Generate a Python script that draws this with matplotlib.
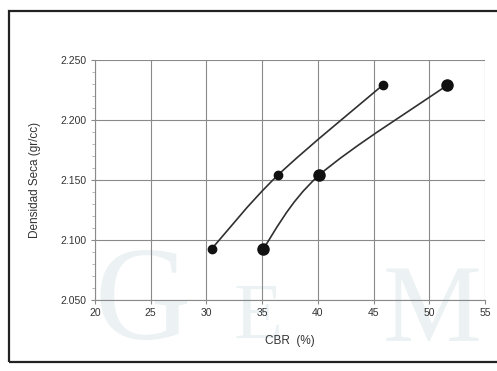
import matplotlib
matplotlib.use("Agg")
import matplotlib.pyplot as plt
from matplotlib.path import Path
from matplotlib.patches import PathPatch, Rectangle

plt.rcParams['font.family'] = ['Liberation Sans', 'DejaVu Sans']

# data
cbr_a = [30.5, 36.4, 45.8]
dens_a = [2.093, 2.154, 2.229]
cbr_b = [35.1, 40.1, 51.6]
dens_b = [2.093, 2.154, 2.229]

x_ticks = [20, 25, 30, 35, 40, 45, 50, 55]
y_ticks = [2.050, 2.100, 2.150, 2.200, 2.250]


def smooth_path(xs, ys):
    # excel-like smoothed line: catmull-rom turned into cubic bezier segments
    pts = list(zip(xs, ys))
    verts = [pts[0]]
    codes = [Path.MOVETO]
    for i in range(len(pts) - 1):
        p0 = pts[max(i - 1, 0)]
        p1 = pts[i]
        p2 = pts[i + 1]
        p3 = pts[min(i + 2, len(pts) - 1)]
        c1 = (p1[0] + (p2[0] - p0[0]) / 6, p1[1] + (p2[1] - p0[1]) / 6)
        c2 = (p2[0] - (p3[0] - p1[0]) / 6, p2[1] - (p3[1] - p1[1]) / 6)
        verts += [c1, c2, p2]
        codes += [Path.CURVE4] * 3
    return Path(verts, codes)


fig = plt.figure(figsize=(4.97, 3.71), dpi=100)
fig.patch.set_facecolor('white')

# scanned frame around the chart
fig.patches.append(Rectangle((0.018, 0.025), 1.0, 0.945, transform=fig.transFigure,
                             fill=False, edgecolor='#222222', linewidth=1.6))

# faint watermark
wm = dict(family='Liberation Serif', color='#ecf2f4', ha='left', va='bottom', zorder=0)
fig.text(0.19, 0.01, 'G', fontsize=96, **wm)
fig.text(0.47, 0.04, 'E', fontsize=58, **wm)
fig.text(0.77, 0.02, 'M', fontsize=80, **wm)

ax = fig.add_axes([0.191, 0.191, 0.785, 0.647])
ax.set_zorder(1)
ax.patch.set_alpha(0)

for p in [smooth_path(cbr_a, dens_a), smooth_path(cbr_b, dens_b)]:
    ax.add_patch(PathPatch(p, fill=False, edgecolor='#303030', linewidth=1.2, zorder=3))

ax.plot(cbr_a, dens_a, linestyle='none', marker='o', markersize=6, color='#111111', zorder=4)
ax.plot(cbr_b, dens_b, linestyle='none', marker='o', markersize=8, color='#111111', zorder=4)

ax.set_xlim(20, 55)
ax.set_ylim(2.050, 2.250)
ax.set_xticks(x_ticks)
ax.set_yticks(y_ticks)
ax.set_yticklabels([f'{v:.3f}' for v in y_ticks])
ax.set_yticks([2.050 + 0.01 * i for i in range(21)], minor=True)

ax.grid(True, color='#8a8a8a', linewidth=0.8)
for s in ['top', 'right']:
    ax.spines[s].set_visible(False)
for s in ['left', 'bottom']:
    ax.spines[s].set_color('#8a8a8a')
    ax.spines[s].set_linewidth(0.8)

ax.tick_params(axis='both', which='major', labelsize=7.5, colors='#8a8a8a',
               labelcolor='#333333', length=3, pad=3)
ax.tick_params(axis='y', which='minor', length=2, colors='#aaaaaa')

ax.set_xlabel('CBR  (%)', fontsize=8.5, color='#333333', labelpad=12)
ax.set_ylabel('Densidad Seca (gr/cc)', fontsize=8.5, color='#333333', labelpad=14)

fig.savefig('out.png', dpi=100)
